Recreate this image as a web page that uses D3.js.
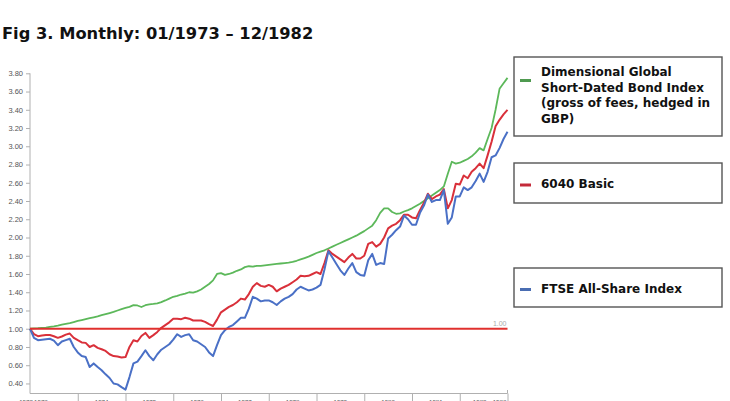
<!DOCTYPE html>
<html>
<head>
<meta charset="utf-8">
<script src="https://cdn.jsdelivr.net/npm/d3@7"></script>
<style>
  html, body { margin: 0; padding: 0; background: #fff; }
  svg { display: block; }
</style>
</head>
<body>
<svg id="chart" width="730" height="401"></svg>
<script>
// ---------- DATA ----------
const title = "Fig 3. Monthly: 01/1973 \u2013 12/1982";
const seriesNames = [
  ["Dimensional Global", "Short-Dated Bond Index", "(gross of fees, hedged in", "GBP)"],
  ["6040 Basic"],
  ["FTSE All-Share Index"]
];
const yTicks = [0.40,0.60,0.80,1.00,1.20,1.40,1.60,1.80,2.00,2.20,2.40,2.60,2.80,3.00,3.20,3.40,3.60,3.80];
const xYearLabels = ["1972","1973","1974","1975","1976","1977","1978","1979","1980","1981","1982","1983"];
const yearBoundaries = [0,12,24,36,48,60,72,84,96,108,120]; // month index of each year boundary
const baselineValue = 1.00;

// Dimensional Global Short-Dated Bond Index (month 0 .. 120)
const bondValues = [
  1.000,1.003,1.006,1.010,1.013,1.020,1.027,1.035,1.045,1.053,1.062,1.073,1.085,
  1.095,1.105,1.115,1.125,1.135,1.148,1.160,1.172,1.185,1.200,1.215,1.228,
  1.240,1.258,1.255,1.238,1.258,1.268,1.272,1.278,1.292,1.310,1.330,1.350,
  1.360,1.375,1.385,1.400,1.395,1.410,1.430,1.460,1.490,1.530,1.600,1.610,
  1.590,1.600,1.615,1.635,1.650,1.675,1.685,1.680,1.690,1.690,1.695,1.700,
  1.705,1.710,1.715,1.720,1.725,1.732,1.745,1.760,1.775,1.790,1.810,1.830,
  1.845,1.860,1.880,1.900,1.920,1.940,1.960,1.980,2.000,2.020,2.045,2.070,
  2.100,2.130,2.190,2.270,2.320,2.320,2.280,2.260,2.265,2.285,2.300,2.320,
  2.345,2.370,2.400,2.430,2.460,2.490,2.520,2.560,2.700,2.830,2.810,
  2.820,2.840,2.860,2.890,2.930,2.980,2.955,3.080,3.200,3.400,3.630,
  3.690,3.750
];

// 6040 Basic
const mixValues = [
  1.000,0.940,0.918,0.925,0.930,0.932,0.918,0.900,0.915,0.935,0.947,0.900,0.874,
  0.850,0.845,0.800,0.820,0.790,0.775,0.757,0.720,0.700,0.695,0.684,0.690,
  0.800,0.874,0.860,0.920,0.954,0.900,0.930,0.965,1.010,1.040,1.070,1.110,
  1.110,1.105,1.120,1.110,1.090,1.090,1.090,1.075,1.050,1.030,1.100,1.180,
  1.210,1.240,1.260,1.290,1.330,1.320,1.380,1.460,1.500,1.470,1.460,1.480,
  1.460,1.410,1.440,1.460,1.480,1.510,1.540,1.580,1.575,1.580,1.600,1.620,
  1.600,1.720,1.860,1.820,1.790,1.760,1.730,1.780,1.820,1.770,1.770,1.800,
  1.930,1.950,1.900,1.930,2.000,2.100,2.130,2.150,2.190,2.250,2.250,2.220,
  2.210,2.300,2.380,2.480,2.420,2.450,2.470,2.530,2.320,2.410,2.590,
  2.580,2.680,2.650,2.720,2.760,2.810,2.760,2.900,3.050,3.220,3.290,
  3.350,3.400
];

// FTSE All-Share Index
const ftseValues = [
  1.000,0.900,0.874,0.880,0.885,0.890,0.870,0.820,0.860,0.875,0.890,0.800,0.740,
  0.700,0.690,0.580,0.620,0.580,0.545,0.500,0.460,0.400,0.390,0.360,0.333,
  0.470,0.620,0.640,0.700,0.764,0.700,0.655,0.720,0.770,0.800,0.830,0.880,
  0.940,0.910,0.930,0.940,0.874,0.860,0.830,0.800,0.740,0.700,0.820,0.930,
  0.985,1.020,1.040,1.080,1.120,1.120,1.220,1.350,1.330,1.300,1.310,1.310,
  1.290,1.260,1.300,1.330,1.350,1.380,1.430,1.460,1.440,1.420,1.430,1.450,
  1.480,1.650,1.850,1.780,1.710,1.640,1.590,1.660,1.720,1.620,1.590,1.580,
  1.750,1.820,1.700,1.720,1.710,1.990,2.030,2.080,2.120,2.240,2.200,2.140,
  2.140,2.270,2.350,2.470,2.390,2.410,2.410,2.520,2.150,2.220,2.450,
  2.450,2.550,2.520,2.550,2.620,2.700,2.610,2.720,2.880,2.900,2.980,
  3.080,3.160
];

const seriesColors = ["#5cb85a", "#d9303a", "#4a70c6"];
const swatchColors = ["#4f9a50", "#c42a3a", "#4a6db2"];

// ---------- CHART ----------
const svg = d3.select("#chart");
svg.append("rect").attr("width", 730).attr("height", 401).attr("fill", "#fff");

svg.append("text")
  .attr("x", 2).attr("y", 39)
  .attr("font-family", "DejaVu Sans").attr("font-weight", "bold")
  .attr("font-size", 16.3).attr("fill", "#111")
  .text(title);

const x = d3.scaleLinear().domain([0, 120]).range([30, 507.5]);
const y = d3.scaleLinear().domain([0.29, 3.80]).range([393.5, 73.3]);

// Y axis
const yAxis = svg.append("g").attr("transform", "translate(30,0)")
  .call(d3.axisLeft(y).tickValues(yTicks).tickFormat(d3.format(".2f")).tickSize(4).tickPadding(3));
yAxis.select(".domain").attr("stroke", "#b0b0b0").attr("d", `M0,${y(3.80)}V393.5`);
yAxis.selectAll(".tick line").attr("stroke", "#b0b0b0");
yAxis.selectAll(".tick text").attr("font-family", "Liberation Sans, Arial").attr("font-size", 7.5).attr("fill", "#555");

// X axis
const xAxis = svg.append("g").attr("transform", "translate(0,393.5)")
  .call(d3.axisBottom(x).tickValues(yearBoundaries.slice(1)).tickFormat("").tickSize(10));
xAxis.select(".domain").attr("stroke", "#b0b0b0").attr("d", `M${x(0)},0H${x(120)}`);
xAxis.selectAll(".tick line").attr("stroke", "#b0b0b0");
svg.append("line").attr("x1", x(120)).attr("x2", x(120)).attr("y1", 390).attr("y2", 393.5).attr("stroke", "#b0b0b0");

// X year labels (partly cut by the bottom edge like the reference)
const labelMonths = xYearLabels.map((d, i) => {
  if (i === 0) return -1;
  if (i === 1) return 2.75;
  if (i === xYearLabels.length - 2) return 113;
  if (i === xYearLabels.length - 1) return 118;
  return yearBoundaries[i - 1] + 6;
});
svg.append("g").selectAll("text").data(xYearLabels).join("text")
  .attr("x", (d, i) => x(labelMonths[i]))
  .attr("y", 404)
  .attr("text-anchor", "middle")
  .attr("font-family", "Liberation Sans, Arial").attr("font-size", 6.2).attr("fill", "#555")
  .text(d => d);

// Lines
const line = d3.line().x((d, i) => x(i)).y(d => y(d)).curve(d3.curveLinear);
const allSeries = [bondValues, mixValues, ftseValues];
svg.append("g").selectAll("path").data(allSeries).join("path")
  .attr("d", d => line(d))
  .attr("fill", "none")
  .attr("stroke", (d, i) => seriesColors[i])
  .attr("stroke-width", (d, i) => i === 0 ? 1.8 : 2)
  .attr("stroke-linejoin", "round");

// Baseline at 1.00
svg.append("line")
  .attr("x1", x(0)).attr("x2", x(120))
  .attr("y1", y(baselineValue)).attr("y2", y(baselineValue))
  .attr("stroke", "#e0302e").attr("stroke-width", 2);
svg.append("text")
  .attr("x", x(120) - 1).attr("y", y(baselineValue) - 3)
  .attr("text-anchor", "end")
  .attr("font-family", "Liberation Sans, Arial").attr("font-size", 7).attr("fill", "#aaa")
  .text(d3.format(".2f")(baselineValue));

// Legend
const legendBoxes = [
  { y: 57, h: 79, swatchY: 80.5, firstBaseline: 76 },
  { y: 163, h: 40, swatchY: 185, firstBaseline: 188 },
  { y: 268, h: 39, swatchY: 289.5, firstBaseline: 293 }
];
const lg = svg.append("g");
legendBoxes.forEach((b, i) => {
  lg.append("rect").attr("x", 514).attr("y", b.y).attr("width", 208).attr("height", b.h)
    .attr("fill", "#fff").attr("stroke", "#555").attr("stroke-width", 1.4);
  lg.append("line").attr("x1", 520).attr("x2", 531).attr("y1", b.swatchY).attr("y2", b.swatchY)
    .attr("stroke", swatchColors[i]).attr("stroke-width", 3);
  lg.append("g").selectAll("text").data(seriesNames[i]).join("text")
    .attr("x", 541).attr("y", (d, j) => b.firstBaseline + j * 15.5)
    .attr("font-family", "DejaVu Sans").attr("font-weight", "bold")
    .attr("font-size", 12).attr("fill", "#111")
    .text(d => d);
});
</script>
</body>
</html>
